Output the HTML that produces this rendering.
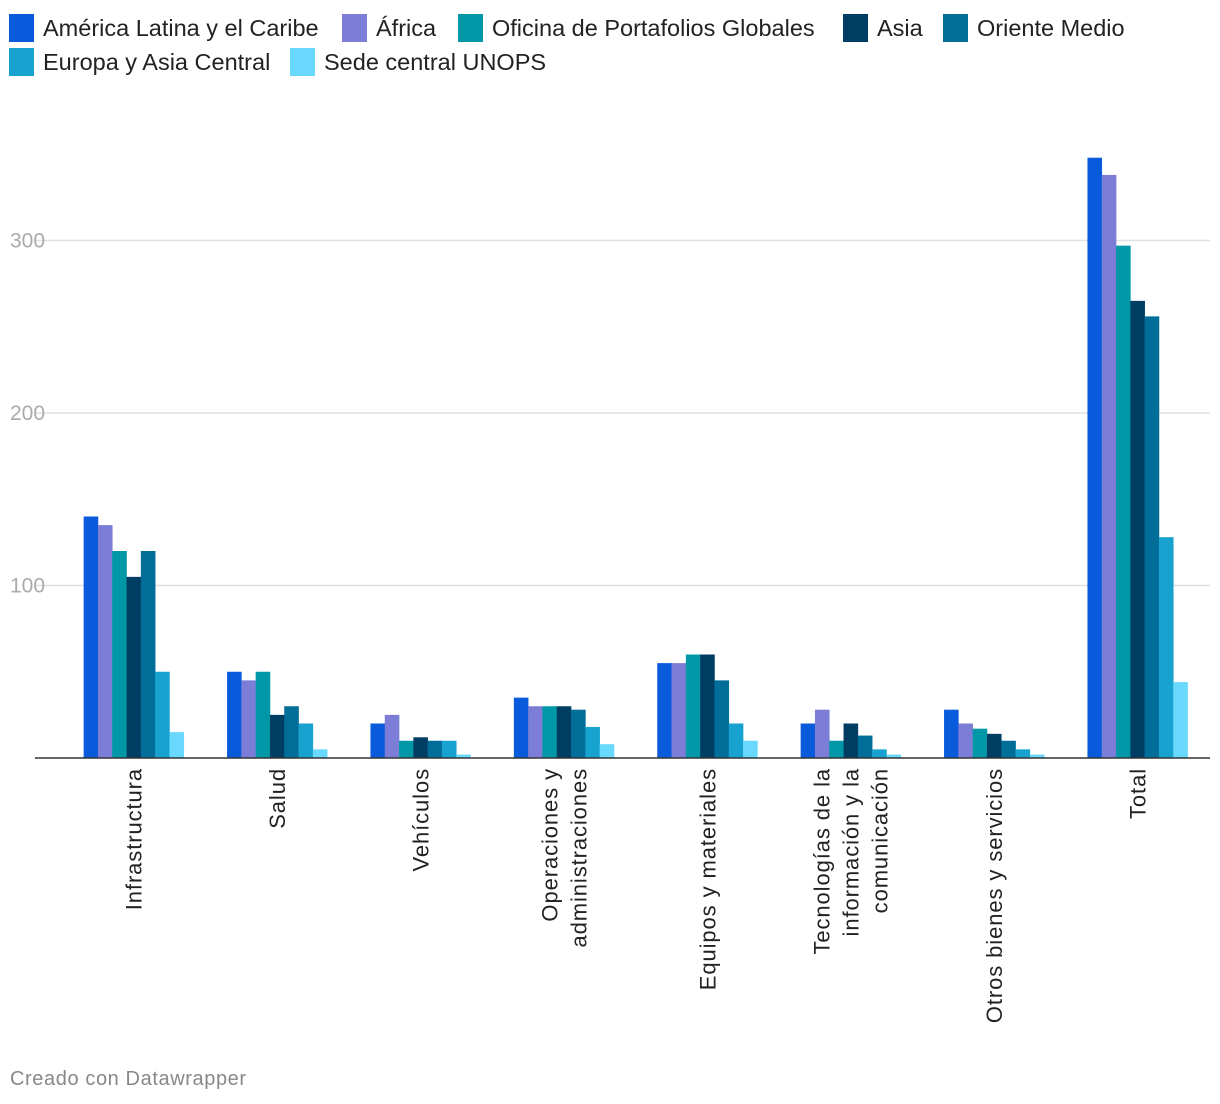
<!DOCTYPE html>
<html><head><meta charset="utf-8"><style>
body{margin:0;background:#fff;font-family:"Liberation Sans",sans-serif;}
#wrap{position:relative;width:1220px;height:1104px;overflow:hidden}
.leg{position:absolute;display:flex;align-items:center;font-size:23.5px;color:#222;white-space:nowrap}
.sw{width:25px;height:28px;margin-right:9px}
</style></head><body><div id="wrap">
<div id="legend"></div>
<svg id="svg" width="1220" height="1104" style="position:absolute;left:0;top:0"></svg>
<div style="position:absolute;left:10px;top:1068px;font-size:20px;letter-spacing:0.6px;color:#888">Creado con Datawrapper</div>
</div>
<script>
const categories=[["Infrastructura"],["Salud"],["Vehículos"],["Operaciones y","administraciones"],["Equipos y materiales"],["Tecnologías de la","información y la","comunicación"],["Otros bienes y servicios"],["Total"]];
const seriesNames=["América Latina y el Caribe","África","Oficina de Portafolios Globales","Asia","Oriente Medio","Europa y Asia Central","Sede central UNOPS"];
const colors=["#0a5bdb","#7b7dd6","#0098a6","#003d63","#006e99","#18a2d0","#68d8fc"];
const sAmerica=[140,50,20,35,55,20,28,348];
const sAfrica=[135,45,25,30,55,28,20,338];
const sOficina=[120,50,10,30,60,10,17,297];
const sAsia=[105,25,12,30,60,20,14,265];
const sOriente=[120,30,10,28,45,13,10,256];
const sEuropa=[50,20,10,18,20,5,5,128];
const sSede=[15,5,2,8,10,2,2,44];
const series=[sAmerica,sAfrica,sOficina,sAsia,sOriente,sEuropa,sSede];
const yTicks=[100,200,300];

const NS="http://www.w3.org/2000/svg";
const svg=document.getElementById('svg');
const y0=758, pxPer=1.725;
const y=v=>y0-v*pxPer;
const gx0=62, gw=143.4, bw=14.3;
const x=(c,s)=>gx0+c*gw+(gw-7*bw)/2+s*bw;
function mk(t,a){const e=document.createElementNS(NS,t);for(const k in a)e.setAttribute(k,a[k]);svg.appendChild(e);return e;}
yTicks.forEach(t=>{
  const l=mk('line',{x1:35,x2:1210,y1:y(t),y2:y(t),stroke:'#e0e0e0','stroke-width':1.5});
  
  
  const tx=mk('text',{x:10,y:y(t)+7,'font-size':21,fill:'#aaa'});tx.textContent=t;
  
  
});
series.forEach((arr,s)=>arr.forEach((v,c)=>{
  const r=mk('rect',{x:x(c,s),y:y(v),width:bw+0.3,height:v*pxPer,fill:colors[s]});
  
  
}));
const ax=mk('line',{x1:35,x2:1210,y1:y0,y2:y0,stroke:'#333','stroke-width':1.5});


categories.forEach((lines,c)=>{
  const cx=gx0+c*gw+gw/2;
  const n=lines.length;
  lines.forEach((ln,i)=>{
    const px=cx+(i-(n-1)/2)*29+8;
    const t=mk('text',{x:0,y:0,'font-size':22,'letter-spacing':0.9,fill:'#222','text-anchor':'end',transform:`translate(${px},768) rotate(-90)`});
    t.textContent=ln;
    
    
  });
});
const leg=document.getElementById('legend');
const pos=[[9,14],[342,14],[458,14],[843,14],[943,14],[9,48],[290,48]];
seriesNames.forEach((n,i)=>{
  const d=document.createElement('div');d.className='leg';
  d.style.left=pos[i][0]+'px';d.style.top=pos[i][1]+'px';
  d.innerHTML='<span class="sw" style="background:'+colors[i]+'"></span>'+n;
  
  
  leg.appendChild(d);
});
</script></body></html>
